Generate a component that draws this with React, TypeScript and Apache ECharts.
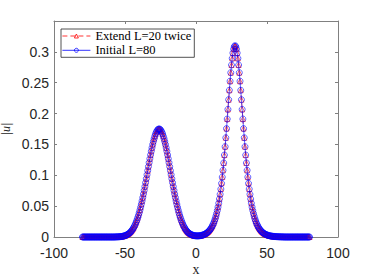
import { useEffect, useRef } from "react";
import * as echarts from "echarts";

// sampling grid of the profiles: x = -80 : 0.5 : 80
const X_MIN = -80;
const X_STEP = 0.5;

// |u|, one value per grid point (x = -80 ... 80)
const uInitial = [
  0, 0, 0, 0, 0, 0, 0, 0, 0, 0,
  0, 0, 0, 0, 0, 0, 0, 0, 0, 0,
  0, 0, 0, 0, 0, 0, 0, 0, 0, 0,
  0, 0, 0, 0, 0, 0, 0, 0, 0, 0,
  0, 0, 0, 0, 0, 0, 0.0001, 0.0001, 0.0002, 0.0002,
  0.0003, 0.0003, 0.0004, 0.0005, 0.0007, 0.0008, 0.001, 0.0012, 0.0015, 0.0018,
  0.0022, 0.0026, 0.0031, 0.0037, 0.0044, 0.0052, 0.0061, 0.0071, 0.0083, 0.0096,
  0.0112, 0.0129, 0.0148, 0.017, 0.0193, 0.022, 0.0249, 0.028, 0.0315, 0.0352,
  0.0393, 0.0436, 0.0483, 0.0532, 0.0584, 0.0639, 0.0696, 0.0755, 0.0817, 0.088,
  0.0944, 0.1009, 0.1075, 0.114, 0.1205, 0.1268, 0.133, 0.139, 0.1446, 0.15,
  0.1549, 0.1594, 0.1634, 0.1669, 0.1697, 0.172, 0.1737, 0.1747, 0.175, 0.1747,
  0.1737, 0.172, 0.1697, 0.1669, 0.1634, 0.1594, 0.1549, 0.15, 0.1446, 0.139,
  0.133, 0.1268, 0.1205, 0.114, 0.1075, 0.1009, 0.0944, 0.088, 0.0817, 0.0755,
  0.0696, 0.0639, 0.0584, 0.0532, 0.0483, 0.0436, 0.0393, 0.0352, 0.0315, 0.028,
  0.0249, 0.022, 0.0193, 0.017, 0.0148, 0.0129, 0.0112, 0.0096, 0.0083, 0.0071,
  0.0063, 0.0054, 0.0047, 0.004, 0.0035, 0.003, 0.0027, 0.0024, 0.0022, 0.002,
  0.0019, 0.0018, 0.0018, 0.0018, 0.0019, 0.002, 0.0022, 0.0024, 0.0027, 0.003,
  0.0033, 0.0038, 0.0043, 0.0049, 0.0056, 0.0063, 0.0072, 0.0082, 0.0094, 0.0107,
  0.0122, 0.0138, 0.0157, 0.0179, 0.0203, 0.023, 0.0261, 0.0296, 0.0336, 0.038,
  0.043, 0.0485, 0.0547, 0.0616, 0.0692, 0.0777, 0.0869, 0.0971, 0.1081, 0.12,
  0.1328, 0.1464, 0.1608, 0.1757, 0.1912, 0.2068, 0.2225, 0.2378, 0.2525, 0.2663,
  0.2787, 0.2895, 0.2982, 0.3047, 0.3087, 0.31, 0.3087, 0.3047, 0.2982, 0.2895,
  0.2787, 0.2663, 0.2525, 0.2378, 0.2225, 0.2068, 0.1912, 0.1757, 0.1608, 0.1464,
  0.1328, 0.12, 0.1081, 0.0971, 0.0869, 0.0777, 0.0692, 0.0616, 0.0547, 0.0485,
  0.043, 0.038, 0.0336, 0.0296, 0.0261, 0.023, 0.0203, 0.0179, 0.0157, 0.0138,
  0.0122, 0.0107, 0.0094, 0.0082, 0.0072, 0.0063, 0.0056, 0.0049, 0.0043, 0.0038,
  0.0033, 0.0029, 0.0025, 0.0022, 0.0019, 0.0017, 0.0015, 0.0013, 0.0011, 0.001,
  0.0009, 0.0008, 0.0007, 0.0006, 0.0005, 0.0004, 0.0004, 0.0003, 0.0003, 0.0002,
  0.0002, 0.0002, 0.0001, 0.0001, 0.0001, 0, 0, 0, 0, 0,
  0, 0, 0, 0, 0, 0, 0, 0, 0, 0,
  0, 0, 0, 0, 0, 0, 0, 0, 0, 0,
  0, 0, 0, 0, 0, 0, 0, 0, 0, 0,
  0,
];

// the extended solution coincides with the initial one at every grid point
const uExtend = [...uInitial];

const seriesNames = ["Extend L=20 twice", "Initial L=80"];
const seriesColors = ["#ff0000", "#0000ff"];
const xAxisName = "x";
const yAxisName = "|u|";

const X_AXIS = { min: -100, max: 100, interval: 50 };
const Y_AXIS = { min: 0, max: 0.35, interval: 0.05 };

function toPoints(values: number[]) {
  return values.map((v, i) => [X_MIN + i * X_STEP, v]);
}

export default function App() {
  const ref = useRef<HTMLDivElement>(null);

  useEffect(() => {
    if (!ref.current) return;
    const chart = echarts.init(ref.current, undefined, { renderer: "svg" });
    const axisColor = "#808080";
    const labelColor = "#262626";
    const tick = { show: true, inside: true, length: 3, lineStyle: { color: axisColor, width: 1 } };
    const line = { show: true, onZero: false, lineStyle: { color: axisColor, width: 1 } };
    const lw = 0.6;

    chart.setOption({
      animation: false,
      backgroundColor: "#ffffff",
      grid: { left: 54, right: 36, top: 21, bottom: 43, containLabel: false, outerBoundsMode: "none" },
      legend: {
        orient: "vertical",
        left: 61,
        top: 29,
        itemWidth: 28,
        itemHeight: 5,
        itemGap: 0.3,
        padding: [0, 3, 0, 1],
        borderColor: "#262626",
        borderWidth: 0.8,
        backgroundColor: "#ffffff",
        textStyle: { fontFamily: "Liberation Serif", fontSize: 12.5, color: "#000", lineHeight: 14 },
        data: [
          {
            name: seriesNames[0],
            itemStyle: { color: "transparent", borderColor: seriesColors[0], borderWidth: 0.8 },
            lineStyle: { color: seriesColors[0], width: 0.8, type: [5, 3] },
          },
          {
            name: seriesNames[1],
            itemStyle: { color: "transparent", borderColor: seriesColors[1], borderWidth: 0.8 },
            lineStyle: { color: seriesColors[1], width: 0.8 },
          },
        ],
      },
      xAxis: [
        {
          type: "value",
          position: "bottom",
          ...X_AXIS,
          axisLine: line,
          axisTick: tick,
          splitLine: { show: false },
          axisLabel: { color: labelColor, fontSize: 14, lineHeight: 14, fontFamily: "Liberation Sans", margin: 9 },
          name: xAxisName,
          nameLocation: "middle",
          nameGap: 25,
          nameMoveOverlap: false,
          nameTextStyle: { fontFamily: "Liberation Serif", fontSize: 14, color: labelColor },
        },
        {
          type: "value",
          position: "top",
          ...X_AXIS,
          axisLine: line,
          axisTick: tick,
          splitLine: { show: false },
          axisLabel: { show: false },
        },
      ],
      yAxis: [
        {
          type: "value",
          position: "left",
          ...Y_AXIS,
          axisLine: line,
          axisTick: tick,
          splitLine: { show: false },
          axisLabel: {
            color: labelColor,
            fontSize: 14,
            lineHeight: 14,
            fontFamily: "Liberation Sans",
            margin: 5,
            showMaxLabel: false,
          },
          name: yAxisName,
          nameLocation: "middle",
          nameGap: 42,
          nameMoveOverlap: false,
          nameRotate: 90,
          nameTextStyle: { fontFamily: "Liberation Serif", fontStyle: "italic", fontSize: 12, color: labelColor },
        },
        {
          type: "value",
          position: "right",
          ...Y_AXIS,
          axisLine: line,
          axisTick: tick,
          splitLine: { show: false },
          axisLabel: { show: false },
        },
      ],
      series: [
        {
          name: seriesNames[0],
          type: "line",
          xAxisIndex: 0,
          yAxisIndex: 0,
          data: toPoints(uExtend),
          symbol: "triangle",
          symbolSize: 5,
          showAllSymbol: true,
          lineStyle: { color: seriesColors[0], width: lw, type: [5, 3] },
          itemStyle: { color: "transparent", borderColor: seriesColors[0], borderWidth: lw },
          z: 2,
        },
        {
          name: seriesNames[1],
          type: "line",
          xAxisIndex: 0,
          yAxisIndex: 0,
          data: toPoints(uInitial),
          symbol: "circle",
          symbolSize: 6,
          showAllSymbol: true,
          lineStyle: { color: seriesColors[1], width: lw },
          itemStyle: { color: "transparent", borderColor: seriesColors[1], borderWidth: lw },
          z: 3,
        },
      ],
    });

    return () => chart.dispose();
  }, []);

  return (
    <div
      ref={ref}
      style={{ position: "absolute", left: 0, top: 0, width: 374, height: 280 }}
    />
  );
}
